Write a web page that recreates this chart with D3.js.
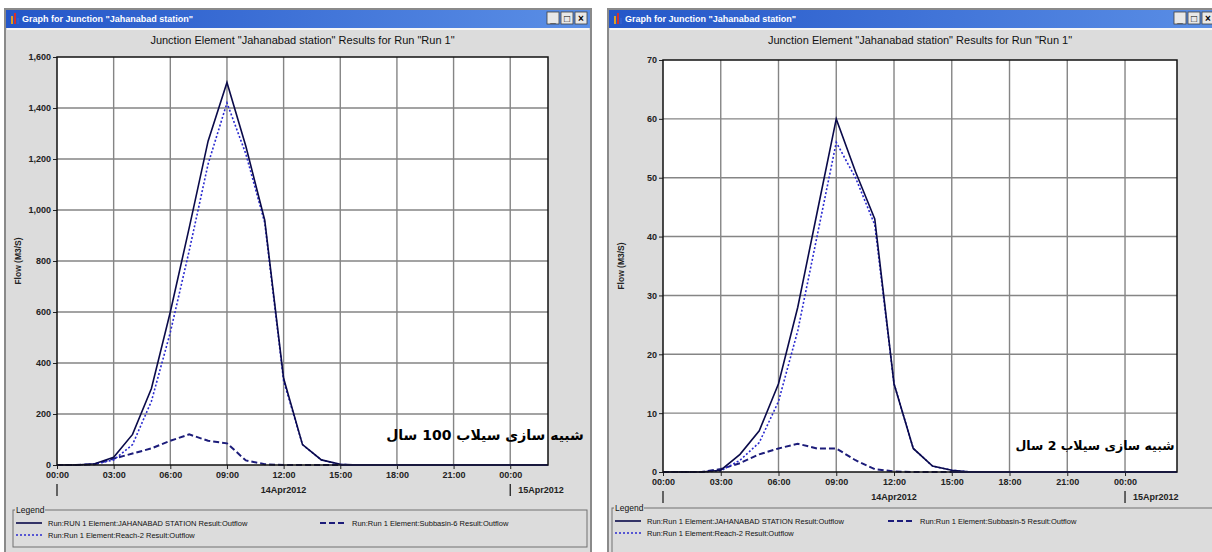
<!DOCTYPE html>
<html>
<head>
<meta charset="utf-8">
<script src="https://d3js.org/d3.v7.min.js"></script>
<style>
  body { margin: 0; padding: 0; background: #ffffff; overflow: hidden; }
  svg { display: block; font-family: "Liberation Sans", Arial, sans-serif; }
</style>
</head>
<body>
<svg width="1212" height="552"></svg>
<script>
// hours after 00:00 on 14Apr2012
const hours = d3.range(0, 28);
const timeTicks = [0, 3, 6, 9, 12, 15, 18, 21, 24];
const timeLabels = ["00:00", "03:00", "06:00", "09:00", "12:00", "15:00", "18:00", "21:00", "00:00"];

// 100-year flood run (m3/s)
const station100 = [0, 0, 5, 30, 120, 300, 600, 930, 1270, 1500, 1250, 960, 340, 80, 20, 3, 0, 0, 0, 0, 0, 0, 0, 0, 0, 0, 0, 0];
const reach100 = [0, 0, 3, 20, 80, 250, 520, 840, 1180, 1420, 1220, 950, 330, 80, 20, 2, 0, 0, 0, 0, 0, 0, 0, 0, 0, 0, 0, 0];
const subbasin100 = [0, 0, 3, 25, 45, 65, 95, 120, 95, 85, 18, 3, 0, 0, 0, 0, 0, 0, 0, 0, 0, 0, 0, 0, 0, 0, 0, 0];
const yTicks100 = [0, 200, 400, 600, 800, 1000, 1200, 1400, 1600];

// 2-year flood run (m3/s)
const station2 = [0, 0, 0, 0.3, 3, 7, 15, 28, 44, 60, 51, 43, 15, 4, 1, 0.3, 0, 0, 0, 0, 0, 0, 0, 0, 0, 0, 0, 0];
const reach2 = [0, 0, 0, 0.2, 2, 5, 12, 24, 40, 56, 50, 42, 15, 4, 1, 0.3, 0, 0, 0, 0, 0, 0, 0, 0, 0, 0, 0, 0];
const subbasin2 = [0, 0, 0, 0.5, 1.5, 3, 4, 4.8, 4, 4, 2, 0.5, 0.1, 0, 0, 0, 0, 0, 0, 0, 0, 0, 0, 0, 0, 0, 0, 0];
const yTicks2 = [0, 10, 20, 30, 40, 50, 60, 70];

const windowTitle = 'Graph for Junction "Jahanabad station"';
const chartTitle = 'Junction Element "Jahanabad station" Results for Run "Run 1"';

const svg = d3.select("svg");

const styles = {
  station: { color: "#0a0a4a", dash: null, width: 1.6 },
  reach: { color: "#2a2ad0", dash: "2,2", width: 1.6 },
  subbasin: { color: "#1c1c7a", dash: "6,3", width: 2 }
};

const panels = [
  {
    id: "p1", win: { x: 5, y: 9, w: 586, h: 560 },
    plot: { left: 57, top: 57, right: 548, bottom: 465 },
    xMax: 26, yMax: 1600, yTicks: yTicks100, fmt: d3.format(","),
    series: [
      { key: "subbasin", values: subbasin100 },
      { key: "reach", values: reach100 },
      { key: "station", values: station100 }
    ],
    legend: { x: 13, y: 510, w: 574, h: 37, col2: 320,
      items: [
        { key: "station", label: "Run:RUN 1 Element:JAHANABAD STATION Result:Outflow", col: 0, row: 0 },
        { key: "subbasin", label: "Run:Run 1 Element:Subbasin-6 Result:Outflow", col: 1, row: 0 },
        { key: "reach", label: "Run:Run 1 Element:Reach-2 Result:Outflow", col: 0, row: 1 }
      ] },
    note: { text: "شبیه سازی سیلاب 100 سال", x: 485, y: 440, size: 14 }
  },
  {
    id: "p2", win: { x: 608, y: 9, w: 620, h: 560 },
    plot: { left: 663, top: 60, right: 1177, bottom: 472 },
    xMax: 26.7, yMax: 70, yTicks: yTicks2, fmt: d3.format("d"),
    series: [
      { key: "subbasin", values: subbasin2 },
      { key: "reach", values: reach2 },
      { key: "station", values: station2 }
    ],
    legend: { x: 612, y: 508, w: 620, h: 50, col2: 888,
      items: [
        { key: "station", label: "Run:Run 1 Element:JAHANABAD STATION Result:Outflow", col: 0, row: 0 },
        { key: "subbasin", label: "Run:Run 1 Element:Subbasin-5 Result:Outflow", col: 1, row: 0 },
        { key: "reach", label: "Run:Run 1 Element:Reach-2 Result:Outflow", col: 0, row: 1 }
      ] },
    note: { text: "شبیه سازی سیلاب 2 سال", x: 1095, y: 450, size: 12.5 }
  }
];

const defs = svg.append("defs");
const grad = defs.append("linearGradient").attr("id", "titlebar");
grad.append("stop").attr("offset", "0%").attr("stop-color", "#2456c8");
grad.append("stop").attr("offset", "100%").attr("stop-color", "#5b8fe6");

panels.forEach(p => {
  const g = svg.append("g");
  const w = p.win;

  // window frame
  g.append("rect").attr("x", w.x).attr("y", w.y).attr("width", w.w).attr("height", w.h)
    .attr("fill", "#dcdcdc").attr("stroke", "#8a8a8a").attr("stroke-width", 2);
  g.append("rect").attr("x", w.x + 1).attr("y", w.y + 1).attr("width", w.w - 2).attr("height", 18)
    .attr("fill", "url(#titlebar)");
  g.append("line").attr("x1", w.x + 2).attr("x2", w.x + w.w - 2).attr("y1", w.y + 20).attr("y2", w.y + 20)
    .attr("stroke", "#ffffff").attr("stroke-width", 1.5);

  // icon
  [["#e0a020", 3, 8], ["#d03030", 6, 11], ["#3060d0", 9, 6]].forEach(([c, dx, h]) => {
    g.append("rect").attr("x", w.x + 3 + dx).attr("y", w.y + 15 - h).attr("width", 2).attr("height", h).attr("fill", c);
  });
  g.append("text").attr("x", w.x + 17).attr("y", w.y + 13)
    .attr("fill", "#ffffff").attr("font-size", 9).attr("font-weight", "bold").text(windowTitle);

  // caption buttons
  const bx = p.id === "p1" ? w.x + w.w - 44 : 1212 - 38;
  ["_", "□", "×"].forEach((s, i) => {
    g.append("rect").attr("x", bx + i * 14).attr("y", w.y + 3).attr("width", 12).attr("height", 12)
      .attr("fill", "#e8e8e8").attr("stroke", "#404040").attr("stroke-width", 0.8);
    g.append("text").attr("x", bx + i * 14 + 6).attr("y", w.y + 13).attr("text-anchor", "middle")
      .attr("font-size", 10).attr("font-weight", "bold").attr("fill", "#000").text(s);
  });

  const pl = p.plot;
  const x = d3.scaleLinear().domain([0, p.xMax]).range([pl.left, pl.right]);
  const y = d3.scaleLinear().domain([0, p.yMax]).range([pl.bottom, pl.top]);

  // chart title
  g.append("text").attr("x", (pl.left + pl.right) / 2).attr("y", 44).attr("text-anchor", "middle")
    .attr("font-size", 11).attr("fill", "#111").text(chartTitle);

  // plot area
  g.append("rect").attr("x", pl.left).attr("y", pl.top).attr("width", pl.right - pl.left)
    .attr("height", pl.bottom - pl.top).attr("fill", "#ffffff");

  // grid
  g.append("g").selectAll("line").data(timeTicks.slice(1)).join("line")
    .attr("x1", d => x(d)).attr("x2", d => x(d)).attr("y1", pl.top).attr("y2", pl.bottom)
    .attr("stroke", "#858585").attr("stroke-width", 1.4);
  g.append("g").selectAll("line").data(p.yTicks.slice(1, -1)).join("line")
    .attr("x1", pl.left).attr("x2", pl.right).attr("y1", d => y(d)).attr("y2", d => y(d))
    .attr("stroke", "#858585").attr("stroke-width", 1.4);

  // axes
  const yAxis = g.append("g").attr("transform", `translate(${pl.left},0)`)
    .call(d3.axisLeft(y).tickValues(p.yTicks).tickFormat(p.fmt).tickSize(4).tickPadding(2));
  const xAxis = g.append("g").attr("transform", `translate(0,${pl.bottom})`)
    .call(d3.axisBottom(x).tickValues(timeTicks).tickFormat((d, i) => timeLabels[i]).tickSize(4).tickPadding(3));
  [yAxis, xAxis].forEach(a => {
    a.select(".domain").remove();
    a.selectAll("text").attr("font-size", 9).attr("font-weight", "bold").attr("fill", "#222")
      .attr("font-family", "'Liberation Sans', Arial, sans-serif");
    a.selectAll("line").attr("stroke", "#222");
  });

  // date row
  const dy = pl.bottom + 28;
  [0, 24].forEach(h => {
    g.append("line").attr("x1", x(h)).attr("x2", x(h)).attr("y1", dy - 9).attr("y2", dy + 3)
      .attr("stroke", "#111").attr("stroke-width", 1.2);
  });
  g.append("text").attr("x", x(12)).attr("y", dy).attr("text-anchor", "middle")
    .attr("font-size", 9).attr("font-weight", "bold").attr("fill", "#222").text("14Apr2012");
  g.append("text").attr("x", x(24) + 8).attr("y", dy)
    .attr("font-size", 9).attr("font-weight", "bold").attr("fill", "#222").text("15Apr2012");

  // y label
  g.append("text").attr("transform", `translate(${w.x + 16},${(pl.top + pl.bottom) / 2}) rotate(-90)`)
    .attr("text-anchor", "middle").attr("font-size", 8.5).attr("font-weight", "bold").attr("fill", "#222").text("Flow (M3/S)");

  // series
  defs.append("clipPath").attr("id", "clip-" + p.id).append("rect")
    .attr("x", pl.left).attr("y", pl.top - 2).attr("width", pl.right - pl.left).attr("height", pl.bottom - pl.top + 4);
  const line = d3.line().x((d, i) => x(hours[i])).y(d => y(d));
  const lg = g.append("g").attr("clip-path", `url(#clip-${p.id})`);
  p.series.forEach(s => {
    const st = styles[s.key];
    lg.append("path").datum(s.values).attr("d", line).attr("fill", "none")
      .attr("stroke", st.color).attr("stroke-width", st.width)
      .attr("stroke-dasharray", st.dash);
  });
  // baseline where all series sit at zero
  lg.append("line").attr("x1", x(hours[15])).attr("x2", pl.right).attr("y1", y(0)).attr("y2", y(0))
    .attr("stroke", "#3535c8").attr("stroke-width", 2);

  // frame
  g.append("rect").attr("x", pl.left).attr("y", pl.top).attr("width", pl.right - pl.left)
    .attr("height", pl.bottom - pl.top).attr("fill", "none").attr("stroke", "#111").attr("stroke-width", 1.5);

  // annotation
  g.append("text").attr("x", p.note.x).attr("y", p.note.y).attr("text-anchor", "middle")
    .attr("font-family", "'DejaVu Sans', sans-serif").attr("font-weight", "bold")
    .attr("font-size", p.note.size).attr("fill", "#000").attr("direction", "rtl").text(p.note.text);

  // legend
  const L = p.legend;
  g.append("rect").attr("x", L.x).attr("y", L.y).attr("width", L.w).attr("height", L.h)
    .attr("fill", "none").attr("stroke", "#707070").attr("stroke-width", 1);
  g.append("rect").attr("x", L.x + 2).attr("y", L.y - 5).attr("width", 30).attr("height", 9).attr("fill", "#dcdcdc");
  g.append("text").attr("x", L.x + 3).attr("y", L.y + 3).attr("font-size", 8.5).attr("fill", "#111").text("Legend");
  L.items.forEach(it => {
    const st = styles[it.key];
    const lx = it.col === 0 ? L.x + 3 : L.col2;
    const ly = L.y + 13 + it.row * 12;
    g.append("line").attr("x1", lx).attr("x2", lx + 26).attr("y1", ly).attr("y2", ly)
      .attr("stroke", st.color).attr("stroke-width", st.width).attr("stroke-dasharray", st.dash);
    g.append("text").attr("x", lx + 32).attr("y", ly + 3).attr("font-size", 7.5).attr("fill", "#111").text(it.label);
  });
});
</script>
</body>
</html>
